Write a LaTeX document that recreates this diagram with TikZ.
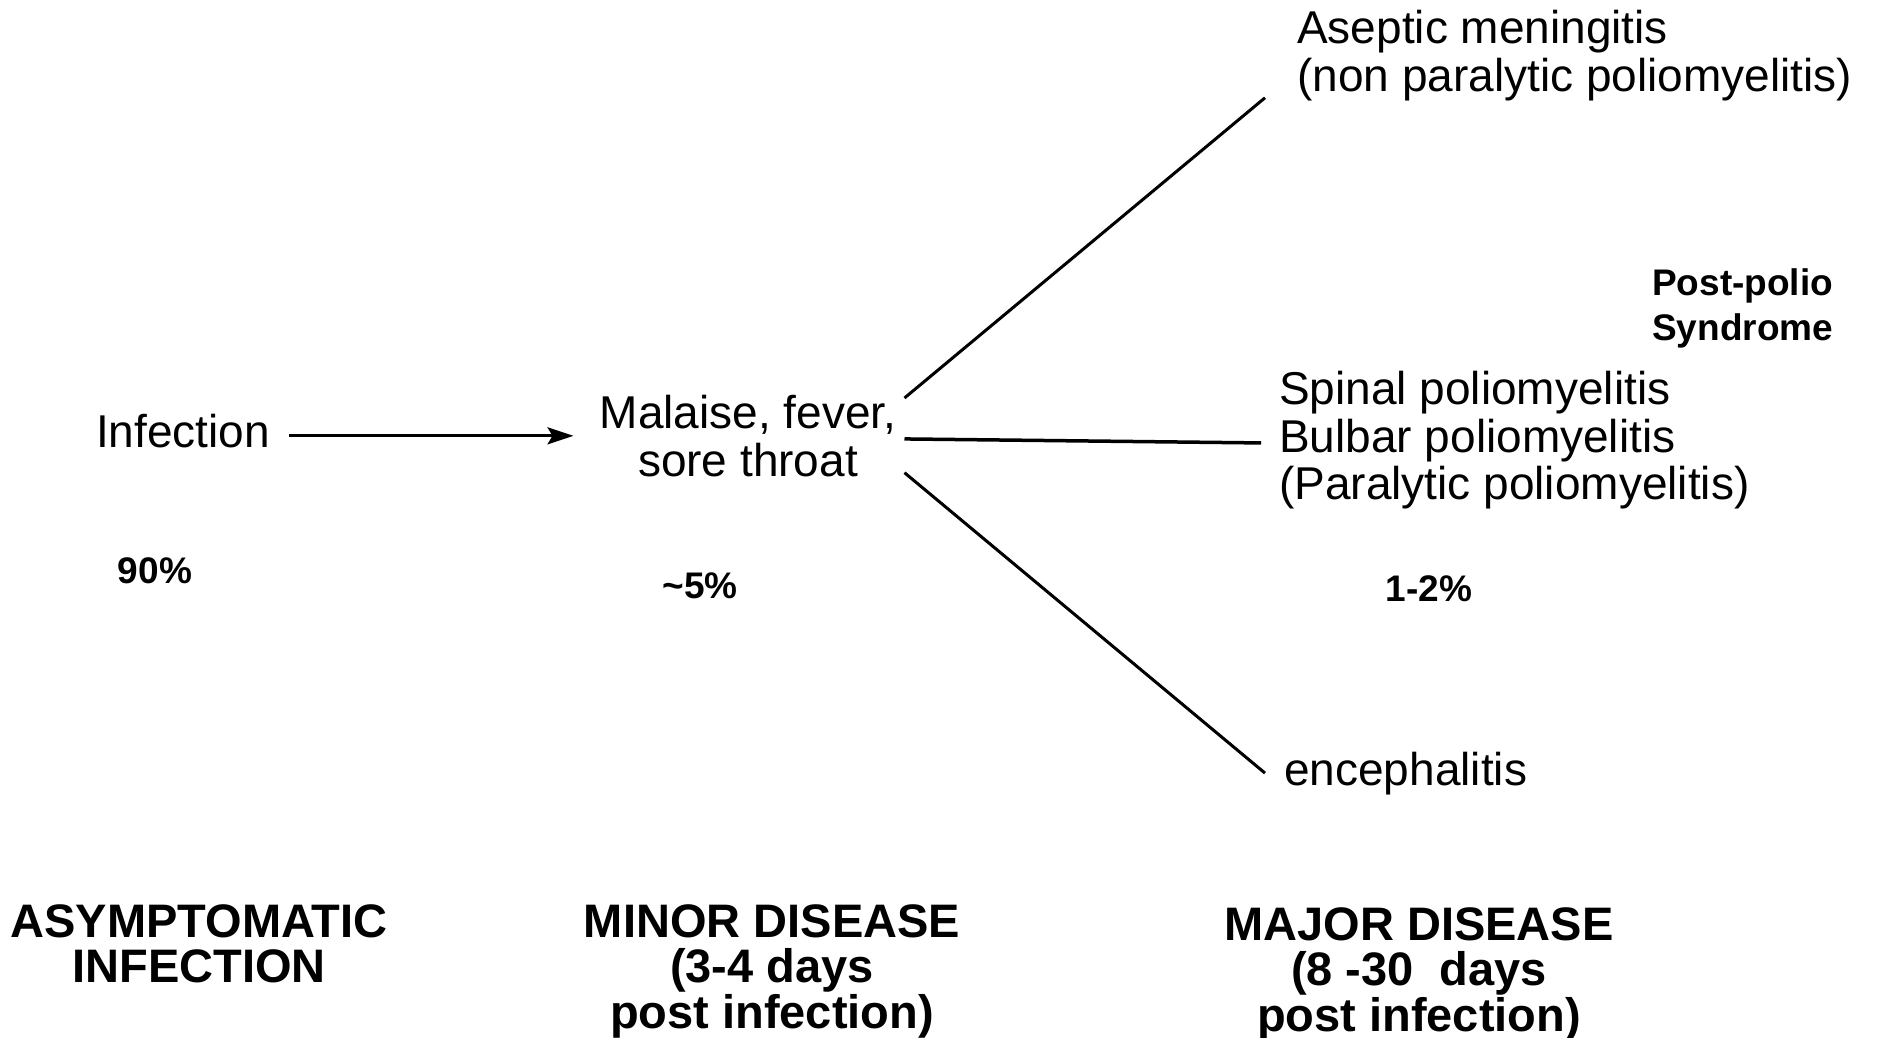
\documentclass[tikz,border=0pt]{standalone}
\usepackage{fontspec}
\setmainfont{Liberation Sans}
\usetikzlibrary{arrows.meta, positioning}

\begin{document}
\begin{tikzpicture}[
    x=1pt, y=-1pt,
    plain/.style={inner sep=0pt, font=\fontsize{46}{47.5}\selectfont},
    stage/.style={inner sep=0pt, align=center, font=\fontsize{47}{45.5}\selectfont\bfseries},
    share/.style={inner sep=0pt, font=\fontsize{37}{45}\selectfont\bfseries},
    branch/.style={line width=3pt},
    arrow/.style={line width=3pt, -{Stealth[length=26pt, width=17pt, inset=5pt]}}
]
\useasboundingbox (0,0) rectangle (1883,1038);

% course of the infection
\node[plain, anchor=base west] (infect) at (96,447) {Infection};
\node[plain, align=center, anchor=north] (minor) at (748,395) {Malaise, fever,\\sore throat};
\node[plain, align=left, anchor=north west] (aseptic) at (1297,10) {Aseptic meningitis\\(non paralytic poliomyelitis)};
\node[plain, align=left, anchor=north west] (paralytic) at (1279,371) {Spinal poliomyelitis\\Bulbar poliomyelitis\\(Paralytic poliomyelitis)};
\node[plain, anchor=base west] (enceph) at (1284,785) {encephalitis};
\node[share, align=left, anchor=north west] (postpolio) at (1652,268) {Post-polio\\Syndrome};

% percentages
\node[share, anchor=base] (pasym) at (155,583) {90\%};
\node[share, anchor=base] (pminor) at (700,598) {\textasciitilde5\%};
\node[share, anchor=base] (pmajor) at (1429,601) {1-2\%};

% stages
\node[stage, anchor=north] (asym) at (199,904) {ASYMPTOMATIC\\INFECTION};
\node[stage, anchor=north] (minordis) at (772,904) {MINOR DISEASE\\(3-4 days\\post infection)};
\node[stage, anchor=north] (majordis) at (1419,907) {MAJOR DISEASE\\(8 -30\ \ days\\post infection)};

% Connectors
\draw[arrow, shorten <=19pt, shorten >=26pt] (infect.east |- minor.west) -- (minor.west);
\draw[branch] ([xshift=8pt, yshift=-3pt]minor.north east) -- ([xshift=-32pt, yshift=3pt]aseptic.south west);
\draw[branch, line width=3.5pt, shorten <=8pt, shorten >=18pt] ([yshift=-3pt]minor.east) -- ([yshift=-3pt]paralytic.west);
\draw[branch] ([xshift=8pt, yshift=4pt]minor.south east) -- ([xshift=-19pt]enceph.west);

\end{tikzpicture}
\end{document}
